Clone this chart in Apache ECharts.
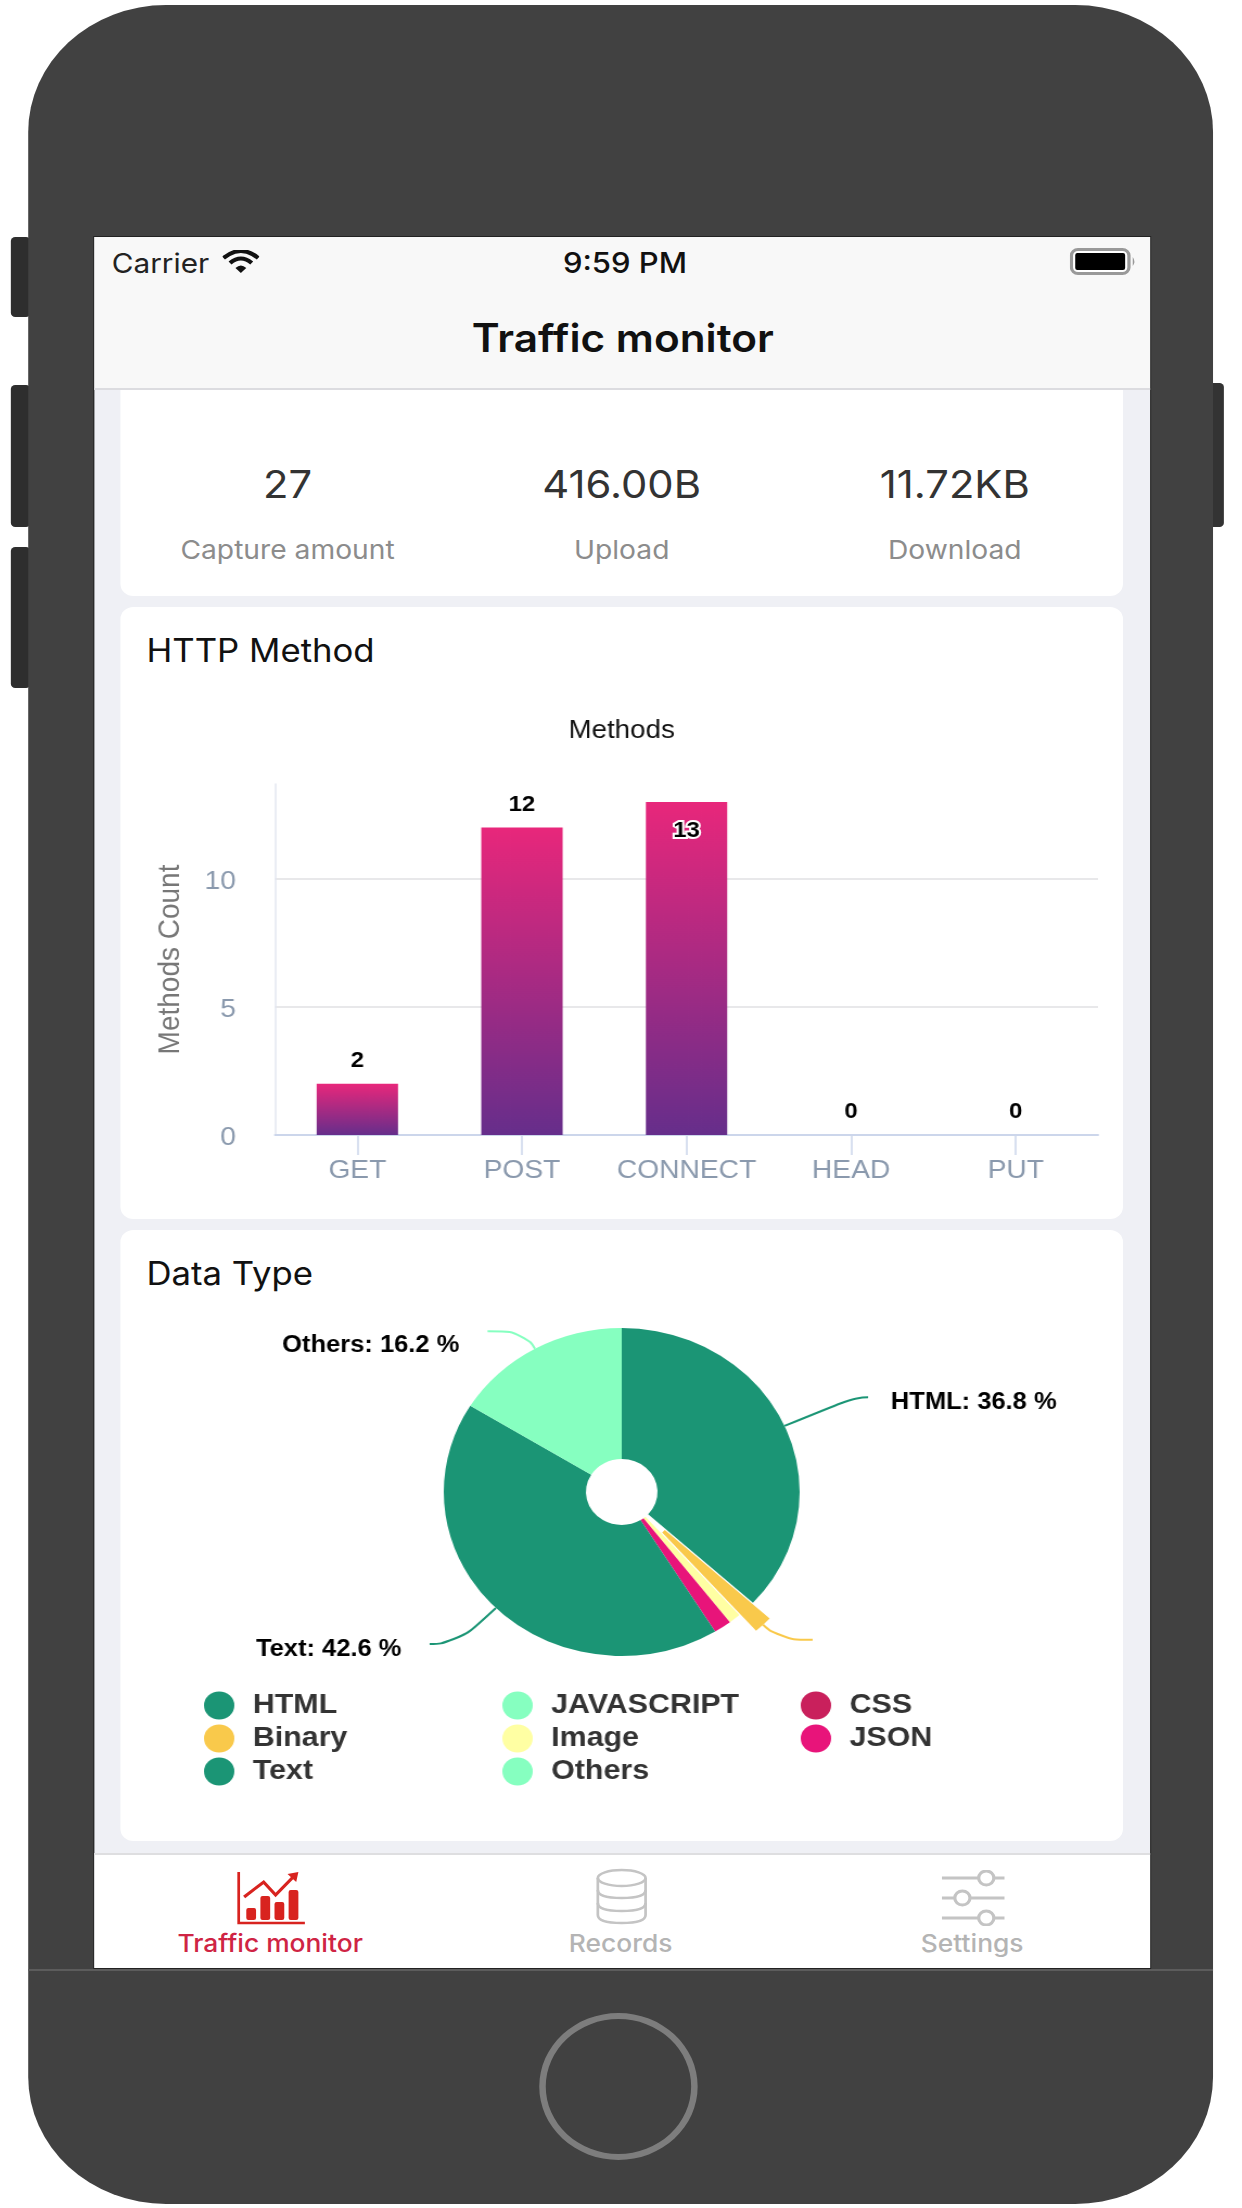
<!DOCTYPE html>
<html>
<head>
<meta charset="utf-8">
<title>Traffic monitor</title>
<script src="https://cdn.jsdelivr.net/npm/echarts@6/dist/echarts.min.js"></script>
<style>
html,body{margin:0;padding:0;background:#fff;width:1242px;height:2208px;overflow:hidden}
/* the reference screenshot is stretched sideways, so everything is laid out on a narrower stage */
#stage{position:absolute;left:0;top:0;width:1145px;height:2208px;transform:scaleX(1.085);transform-origin:0 0;font-family:Inter,Roboto,sans-serif}
#stage div{position:absolute;box-sizing:border-box}
#stage svg{position:absolute}
.btn{background:#2e2e2e;border-radius:4px;width:18px}
.card{background:#fff;left:111px;width:924px;border-radius:12px}
.txt{white-space:nowrap;line-height:1}
.c{transform:translateX(-50%)}
.num{font-size:38.5px;color:#333;top:465px}
.lab{font-size:26px;color:#8c8c8c;top:536.5px}
.head{font-size:32px;color:#111;left:135px}
.tab{font-size:24.3px;font-weight:500;color:#b4b4b4;top:1931px}
</style>
</head>
<body>
<div id="stage">
  <div class="btn" style="left:10px;top:237px;height:80px"></div>
  <div class="btn" style="left:10px;top:385px;height:142px"></div>
  <div class="btn" style="left:10px;top:547px;height:141px"></div>
  <div class="btn" style="left:1112px;top:383px;height:144px;width:16px;background:#333"></div>
  <div style="left:26px;top:5px;width:1092px;height:2199px;background:#414141;border-radius:127px"></div>
  <div style="left:86px;top:236px;width:975px;height:1733px;background:#222"></div>
  <div style="left:26px;top:1969px;width:1092px;height:2px;background:#5c5c5c"></div>

  <div id="screen" style="left:87px;top:237px;width:973px;height:1731px;background:#eff0f5;overflow:hidden"></div>

  <div style="left:87px;top:237px;width:973px;height:153px;background:#f8f8f8;border-bottom:2px solid #dcdce0"></div>
  <div class="txt" style="left:103px;top:250px;font-size:27.4px;color:#222">Carrier</div>
  <svg style="left:205px;top:250px" width="34" height="24" viewBox="0 0 34 24">
    <path d="M1 8 Q17 -6 33 8" fill="none" stroke="#111" stroke-width="4"/>
    <path d="M7 13 Q17 4 27 13" fill="none" stroke="#111" stroke-width="4"/>
    <path d="M12 18 L17 23 L22 18 Q17 13 12 18Z" fill="#111"/>
  </svg>
  <div class="txt c" style="left:576px;top:249px;font-size:28.6px;font-weight:500;color:#111">9:59 PM</div>
  <svg style="left:986px;top:248px" width="62" height="28" viewBox="0 0 62 28">
    <rect x="1.5" y="1.5" width="53" height="24" rx="6" fill="#fff" stroke="#999" stroke-width="3"/>
    <rect x="5" y="5" width="46" height="17" rx="2" fill="#000"/>
    <path d="M58 9 Q61 13.5 58 18Z" fill="#999"/>
  </svg>
  <div class="txt c" style="left:574px;top:317.5px;font-size:39px;font-weight:600;color:#111">Traffic monitor</div>

  <div class="card" style="top:390px;height:206px;border-radius:0 0 12px 12px"></div>
  <div class="txt c num" id="v0" style="left:265px"></div>
  <div class="txt c num" id="v1" style="left:573px"></div>
  <div class="txt c num" id="v2" style="left:880px"></div>
  <div class="txt c lab" id="l0" style="left:265px"></div>
  <div class="txt c lab" id="l1" style="left:573px"></div>
  <div class="txt c lab" id="l2" style="left:880px"></div>

  <div class="card" style="top:607px;height:612px"></div>
  <div class="txt head" style="top:635px">HTTP Method</div>
  <div id="methodChart" style="left:111px;top:607px;width:924px;height:612px"></div>

  <div class="card" style="top:1230px;height:611px"></div>
  <div class="txt head" style="top:1258px">Data Type</div>
  <div id="typeChart" style="left:111px;top:1230px;width:924px;height:611px"></div>

  <div style="left:87px;top:1853px;width:973px;height:115px;background:#fff;border-top:2px solid #dedee0"></div>
  <svg style="left:218px;top:1870px" width="64" height="56" viewBox="0 0 64 56">
    <path d="M2 2 V53 H63" fill="none" stroke="#d8231f" stroke-width="2.5"/>
    <rect x="9" y="38" width="9" height="12" rx="2" fill="#d8231f"/>
    <rect x="22" y="26" width="9" height="24" rx="2" fill="#d8231f"/>
    <rect x="35" y="32" width="9" height="18" rx="2" fill="#d8231f"/>
    <rect x="48" y="20" width="9" height="30" rx="2" fill="#d8231f"/>
    <path d="M7 27 L25 12 L36 25 L54 5" fill="none" stroke="#d8231f" stroke-width="3"/>
    <path d="M47 4 L57 2 L55 12Z" fill="#d8231f"/>
  </svg>
  <svg style="left:548px;top:1868px" width="50" height="58" viewBox="0 0 50 58" fill="none" stroke="#c4c4c4" stroke-width="2.5">
    <ellipse cx="25" cy="10" rx="22" ry="8"/>
    <path d="M3 10 V47 Q3 55 25 55 Q47 55 47 47 V10"/>
    <path d="M3 22 Q3 30 25 30 Q47 30 47 22"/>
    <path d="M3 35 Q3 43 25 43 Q47 43 47 35"/>
  </svg>
  <svg style="left:868px;top:1870px" width="58" height="56" viewBox="0 0 58 56" fill="none" stroke="#c4c4c4" stroke-width="3">
    <path d="M0 8 H34 M48 8 H58 M0 28 H12 M26 28 H58 M0 48 H34 M48 48 H58"/>
    <circle cx="41" cy="8" r="7"/>
    <circle cx="19" cy="28" r="7"/>
    <circle cx="41" cy="48" r="7"/>
  </svg>
  <div class="txt c tab" style="left:249px;color:#cf2444">Traffic monitor</div>
  <div class="txt c tab" style="left:572px">Records</div>
  <div class="txt c tab" style="left:896px">Settings</div>

  <div style="left:497px;top:2013px;width:146px;height:147px;border:6px solid #7d7d7d;border-radius:50%"></div>
</div>

<script>
var statValues = ['27', '416.00B', '11.72KB'];
var statLabels = ['Capture amount', 'Upload', 'Download'];

var methodNames = ['GET', 'POST', 'CONNECT', 'HEAD', 'PUT'];
var methodCounts = [2, 12, 13, 0, 0];

var typeNames = ['HTML', 'JAVASCRIPT', 'CSS', 'Binary', 'Image', 'JSON', 'Text', 'Others'];
var typeShares = [36.8, 0, 0, 1.7, 1.1, 1.6, 42.6, 16.2];
var typeColors = ['#1b9575', '#86ffc0', '#c9205c', '#f9c94b', '#ffffa3', '#e8147a', '#1b9575', '#86ffc0'];

statValues.forEach(function (v, i) {
  document.getElementById('v' + i).textContent = v;
  document.getElementById('l' + i).textContent = statLabels[i];
});

var sans = '"Liberation Sans", Arial, sans-serif';

var methodChart = echarts.init(document.getElementById('methodChart'));
methodChart.setOption({
  animation: false,
  title: {
    text: 'Methods',
    left: 'center',
    top: 106,
    textStyle: { fontFamily: sans, fontSize: 25.5, fontWeight: 'normal', color: '#111' }
  },
  grid: { left: 142.5, top: 177, width: 758.5, height: 351 },
  xAxis: {
    type: 'category',
    data: methodNames,
    axisLine: { lineStyle: { color: '#ccd6eb', width: 2 } },
    axisTick: { show: true, alignWithLabel: true, length: 20, lineStyle: { color: '#ccd6eb', width: 1.5 } },
    axisLabel: { interval: 0, margin: 23, fontFamily: sans, fontSize: 26, color: '#8a99ad' }
  },
  yAxis: {
    type: 'value',
    min: 0,
    max: 13.7,
    interval: 5,
    name: 'Methods Count',
    nameLocation: 'middle',
    nameGap: 82,
    nameTextStyle: { fontFamily: sans, fontSize: 28, color: '#777' },
    axisLine: { show: true, lineStyle: { color: '#e3e7f0', width: 1.5 } },
    axisTick: { show: false },
    axisLabel: {
      margin: 36,
      showMaxLabel: false,
      formatter: '{v|{value}}',
      rich: { v: { padding: [6, 0, 0, 0], fontFamily: sans, fontSize: 26, color: '#8a99ad' } }
    },
    splitLine: { showMaxLine: false, lineStyle: { color: '#e8e8ea', width: 2 } }
  },
  series: [{
    type: 'bar',
    barWidth: 75,
    data: methodCounts.map(function (v) {
      var item = { value: v };
      if (v === 13) {
        item.label = { position: 'insideTop', distance: 18, textBorderColor: '#fff', textBorderWidth: 4 };
      }
      return item;
    }),
    itemStyle: {
      color: new echarts.graphic.LinearGradient(0, 0, 0, 1, [
        { offset: 0, color: '#e8277b' },
        { offset: 1, color: '#662e8b' }
      ])
    },
    label: {
      show: true,
      position: 'top',
      distance: 12,
      fontFamily: sans,
      fontSize: 22,
      fontWeight: 'bold',
      color: '#000'
    }
  }]
});

// how each callout runs from the pie edge: [radial, horizontal, gap to text, padding above text]
var callouts = {
  HTML: [71, 12, 21, 11],
  Binary: [21, 31, 5, 0],
  Text: [51, 25, 26, 11],
  Others: [20, 34, 26, 28]
};

// legend columns, read across the rows of the reference
var legendColumns = [
  ['HTML', 'Binary', 'Text'],
  ['JAVASCRIPT', 'Image', 'Others'],
  ['CSS', 'JSON']
];

var typeChart = echarts.init(document.getElementById('typeChart'));
typeChart.setOption({
  animation: false,
  legend: legendColumns.map(function (names, i) {
    return {
      data: names,
      left: 77 + i * 275,
      top: 461.5,
      orient: 'vertical',
      selectedMode: false,
      icon: 'circle',
      itemWidth: 28,
      itemHeight: 28,
      itemGap: 5,
      padding: 0,
      textStyle: {
        fontFamily: sans,
        fontSize: 28,
        fontWeight: 'bold',
        color: '#333',
        padding: [0, 0, 0, 12]
      }
    };
  }),
  series: [{
    type: 'pie',
    center: [462, 262],
    radius: [33, 164],
    startAngle: 90,
    clockwise: true,
    avoidLabelOverlap: false,
    selectedMode: 'single',
    selectedOffset: 22,
    stillShowZeroSum: false,
    itemStyle: { borderWidth: 0 },
    label: {
      formatter: function (p) {
        return '{t|' + p.name + ': ' + p.value.toFixed(1) + ' %}';
      }
    },
    data: typeNames.map(function (name, i) {
      var c = callouts[name];
      var item = { name: name, value: typeShares[i], itemStyle: { color: typeColors[i] } };
      if (!c) {
        item.label = { show: false };
        item.labelLine = { show: false };
        return item;
      }
      item.label = {
        show: true,
        distanceToLabelLine: c[2],
        rich: {
          t: { padding: [c[3], 0, 0, 0], fontFamily: sans, fontSize: 23.5, fontWeight: 'bold', color: '#000' }
        }
      };
      item.labelLine = { show: true, length: c[0], length2: c[1], smooth: 0.6, lineStyle: { color: typeColors[i], width: 2 } };
      if (name === 'Binary') {
        item.selected = true;
        item.label.formatter = ' ';
      }
      return item;
    })
  }]
});
</script>
</body>
</html>
